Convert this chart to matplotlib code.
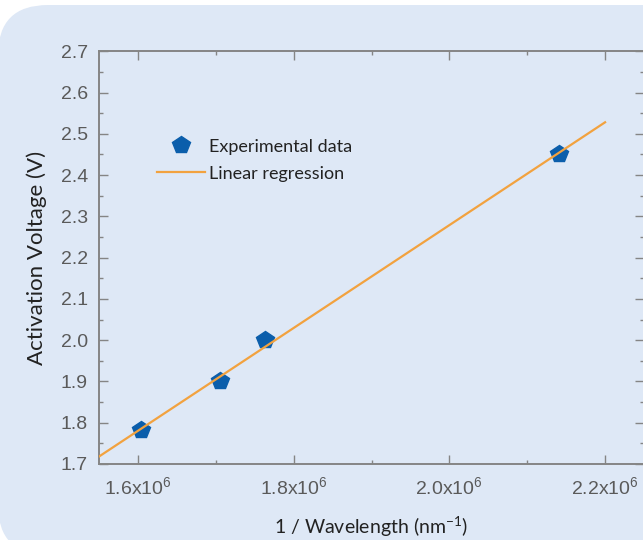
import matplotlib
matplotlib.use("Agg")
import matplotlib.pyplot as plt
import matplotlib.patches as mpatches
from matplotlib.ticker import MultipleLocator, FuncFormatter
import numpy as np

# Data (1/wavelength, activation voltage)
inv_wavelength = [1.6035e6, 1.706e6, 1.7626e6, 2.1413e6]
voltage = [1.782, 1.901, 2.000, 2.452]
fit_range = [1.55e6, 2.20e6]
xtick_values = [1.6e6, 1.8e6, 2.0e6, 2.2e6]
ytick_values = [1.7, 1.8, 1.9, 2.0, 2.1, 2.2, 2.3, 2.4, 2.5, 2.6, 2.7]

W, H = 643, 540
fig = plt.figure(figsize=(W / 100, H / 100), dpi=100, facecolor="white")

# background rounded panel
bg = fig.add_axes([0, 0, 1, 1])
bg.set_xlim(0, W)
bg.set_ylim(H, 0)
bg.axis("off")
panel = mpatches.FancyBboxPatch((-2, 5), W + 60, H + 10,
                                boxstyle="round,pad=0,rounding_size=50",
                                facecolor="#dee8f6", edgecolor="none")
bg.add_patch(panel)

ax = fig.add_axes([99 / W, (H - 464) / H, 545 / W, 412.7 / H])
ax.set_facecolor("none")

ax.plot(inv_wavelength, voltage, linestyle="none", marker="p", markersize=13,
        color="#0b5eab", markeredgecolor="#0b5eab", label="Experimental data", zorder=3)

coef = np.polyfit(inv_wavelength, voltage, 1)
xf = np.array(fit_range)
ax.plot(xf, np.polyval(coef, xf), color="#f2a23f", linewidth=1.6,
        label="Linear regression", zorder=4)

ax.set_xlim(1.55e6, 2.25e6)
ax.set_ylim(1.7, 2.7)
ax.set_xticks(xtick_values)
ax.set_yticks(ytick_values)
ax.xaxis.set_minor_locator(MultipleLocator(0.1e6))
ax.yaxis.set_minor_locator(MultipleLocator(0.05))


def xfmt(v, pos):
    return r"$\mathregular{%.1fx10^{6}}$" % (v / 1e6)


ax.xaxis.set_major_formatter(FuncFormatter(xfmt))
ax.yaxis.set_major_formatter(FuncFormatter(lambda v, p: "%.1f" % v))

for s in ax.spines.values():
    s.set_color("#858585")
    s.set_linewidth(1.4)

ax.tick_params(which="both", direction="in", top=True, right=True, color="#858585")
ax.tick_params(which="major", length=6.5, width=1.0)
ax.tick_params(which="minor", length=3, width=1.0)
ax.tick_params(axis="both", which="major", labelsize=14, labelcolor="#5a5a5a")
ax.tick_params(axis="y", pad=8)
ax.tick_params(axis="x", pad=9)
for lab in ax.get_xticklabels() + ax.get_yticklabels():
    lab.set_family("Liberation Sans")

ax.set_xlabel(r"1 / Wavelength (nm$^{\mathregular{-1}}$)", family="Lato",
              fontsize=14, color="#222222", labelpad=11)
ax.set_ylabel("Activation Voltage (V)", family="Lato", fontsize=16,
              color="#222222", labelpad=10)

leg = ax.legend(loc="upper left", bbox_to_anchor=(0.107, 0.788), frameon=False,
                prop={"family": "Lato", "size": 13}, handlelength=2.65,
                handletextpad=0.22, labelspacing=0.6, borderpad=0,
                borderaxespad=0)
for t in leg.get_texts():
    t.set_color("#222222")

fig.savefig("out.png", dpi=100, facecolor="white")
